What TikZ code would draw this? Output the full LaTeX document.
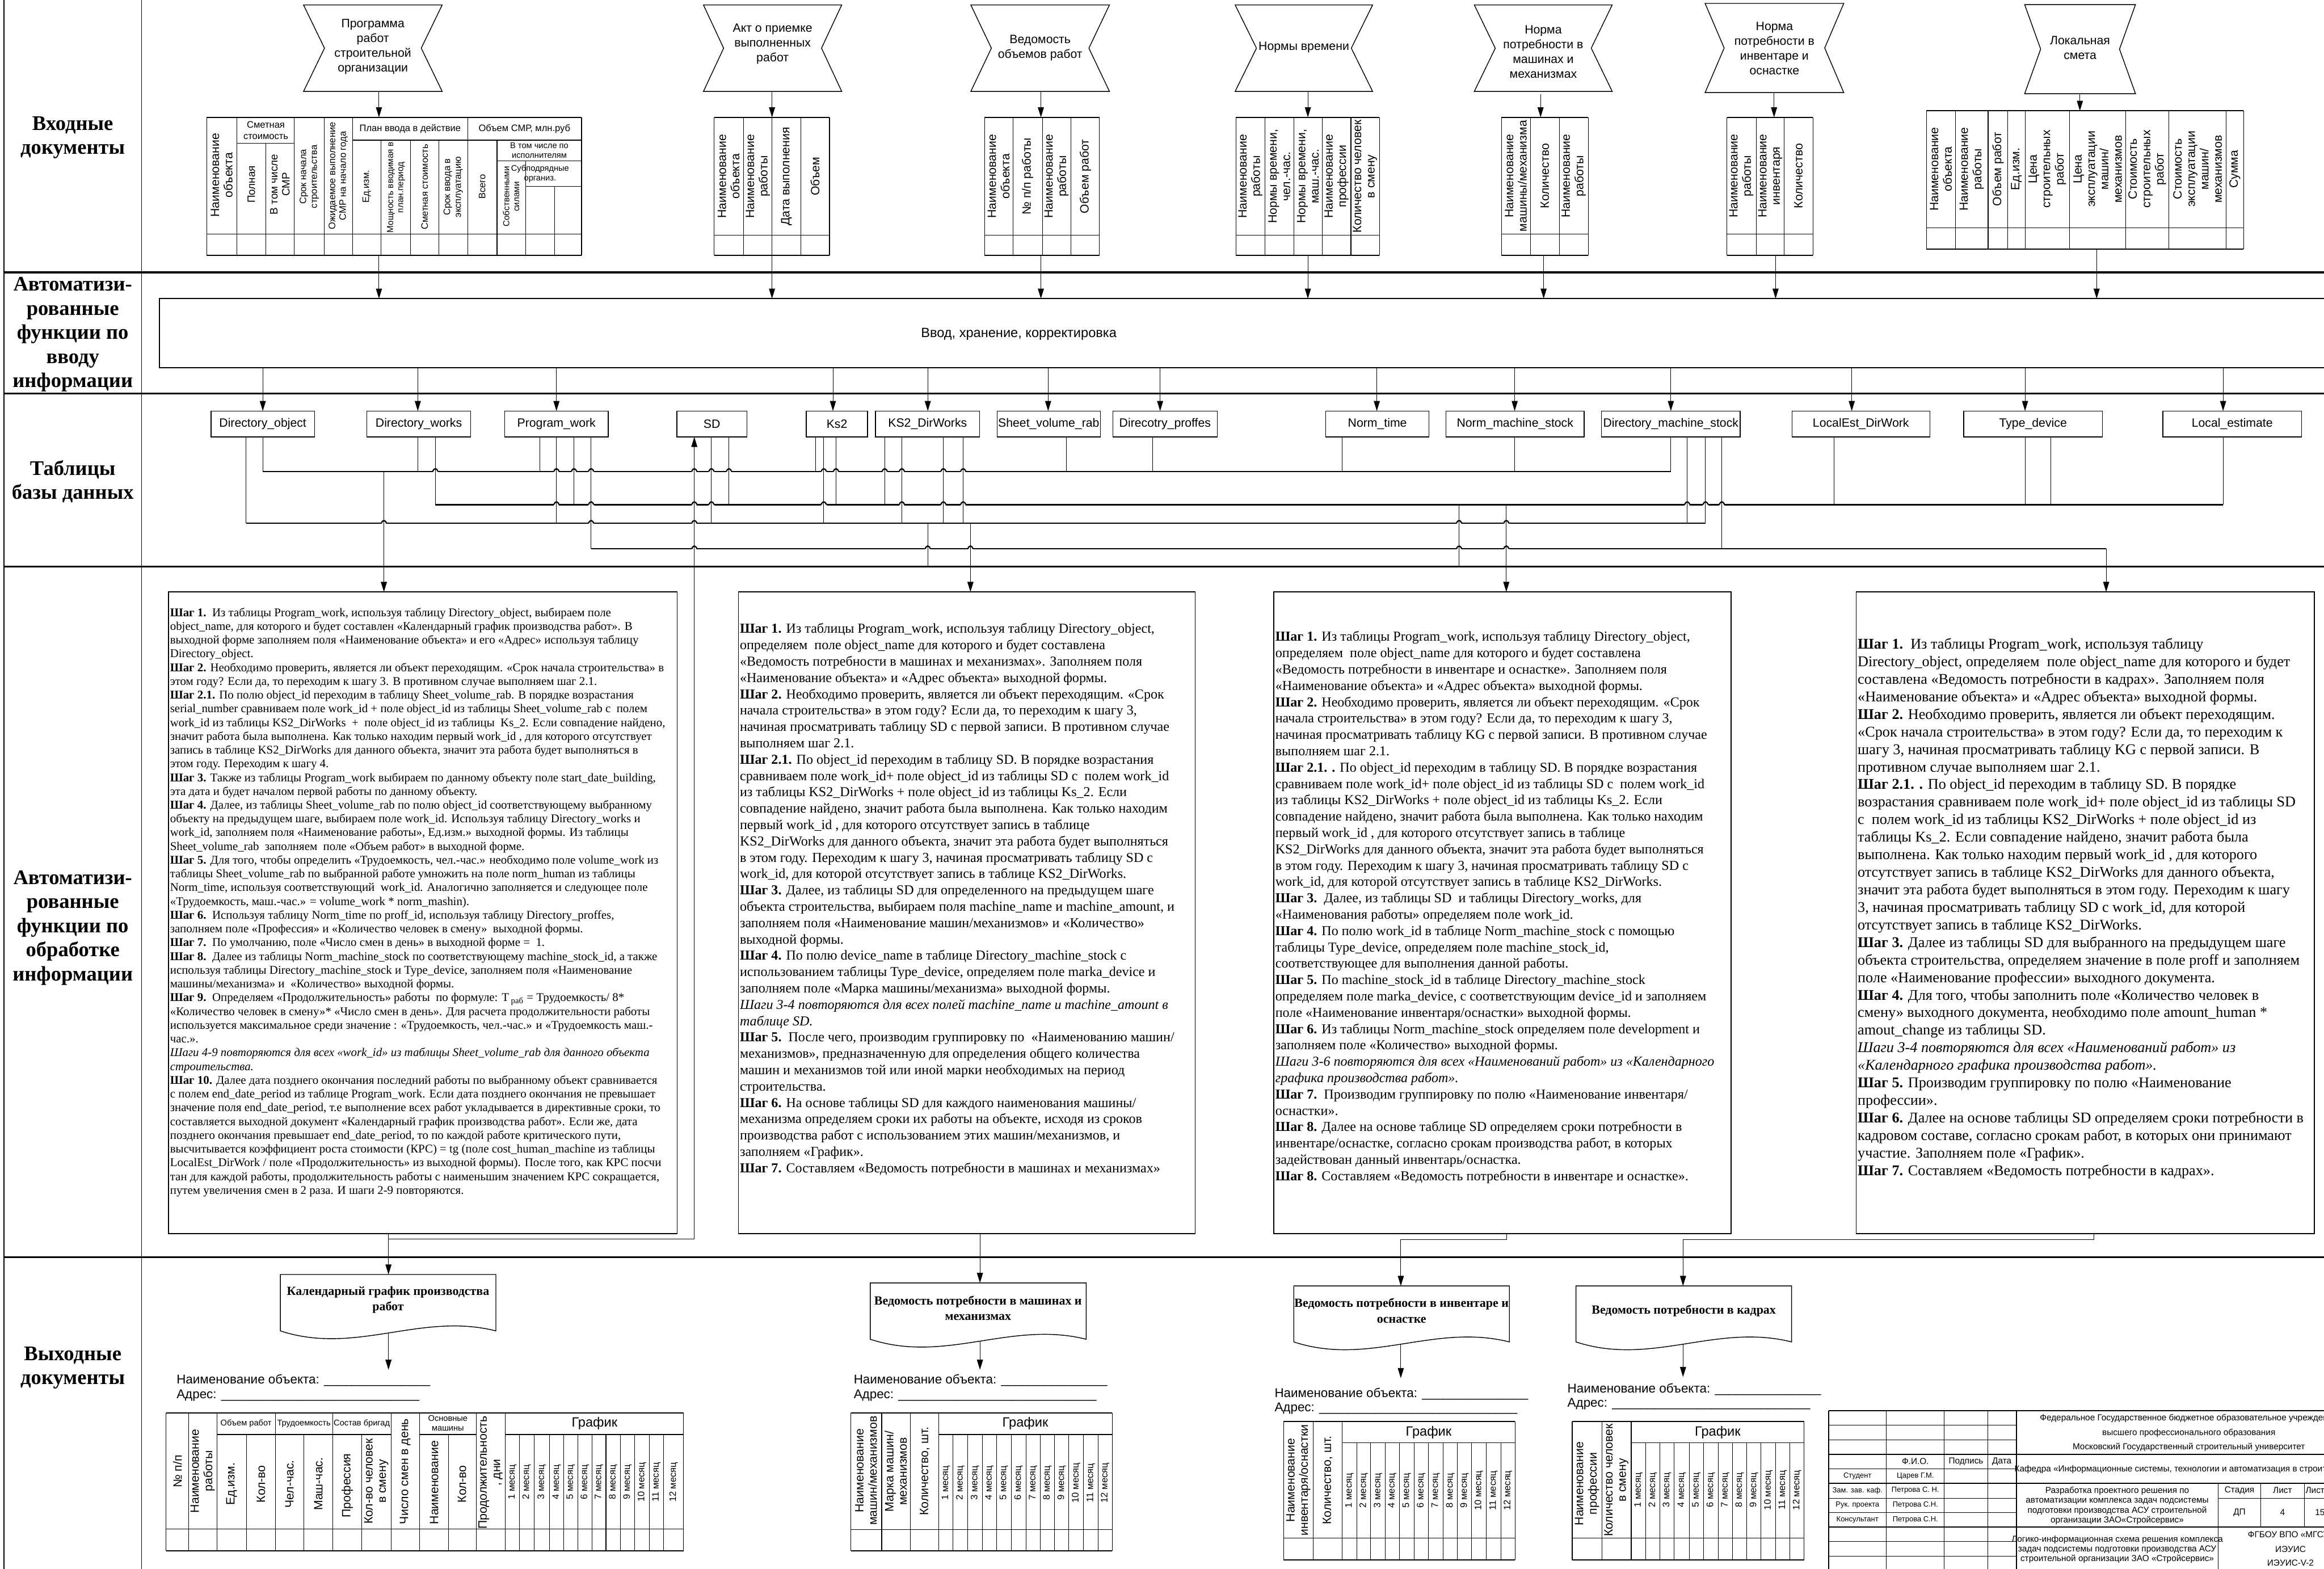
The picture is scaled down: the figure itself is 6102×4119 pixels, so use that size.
\documentclass[tikz,border=0pt]{standalone}
\usepackage{fontspec}
\setmainfont{Liberation Serif}
\setsansfont{Liberation Sans}
\usetikzlibrary{arrows.meta}
\newcommand\fsz[2]{\fontsize{#1}{#2}\selectfont}
\newcommand\bushop[2]{%
  \fill[white] ({#1-7},{#2-3}) rectangle ({#1+7},{#2+3});
  \draw[bus] ({#1-7},#2) .. controls ({#1-3},{#2-10}) and ({#1+3},{#2-10}) .. ({#1+7},#2);}
% name x1 x2 top bot indent texty text
\newcommand\hglass[8]{%
  \draw[ln] (#2,#4) -- (#3,#4) -- ({#3-#6},{(#4+#5)/2}) -- (#3,#5) -- (#2,#5) -- ({#2+#6},{(#4+#5)/2}) -- cycle;
  \node[doctxt] (#1) at ({(#2+#3)/2},#7) {#8};}
% name x1 x2 top ybottom
\newcommand\outdoc[5]{%
  \draw[ln] (#2,#5) -- (#2,#4) -- (#3,#4) -- (#3,#5) .. controls ({#3-0.35*(#3-#2)},{#5-50}) and ({#2+0.35*(#3-#2)},{#5+65}) .. (#2,#5) -- cycle;
  \coordinate (#1) at ({(#2+#3)/2},#4);}
% xlist top headerbottom bottom left right
\newcommand\gridtab[6]{%
  \foreach \xx in {#1} {\draw[thn] (\xx,#2) -- (\xx,#4);}
  \draw[thk] (#5,#2) -- (#6,#2); \draw[thk] (#5,#4) -- (#6,#4);
  \draw[thn] (#5,#3) -- (#6,#3);}
\newcommand\usc{\_\_\_\_\_}
\begin{document}
\begin{tikzpicture}[x=0.01cm,y=-0.01cm,
  ln/.style={line width=0.6pt},
  thn/.style={line width=0.45pt},
  thk/.style={line width=0.9pt},
  rowsep/.style={line width=1.4pt},
  bus/.style={line width=0.95pt},
  arr/.style={line width=0.45pt,-{Triangle[length=7.5pt,width=4.5pt]}},
  rowlbl/.style={align=center,inner sep=0pt,font=\bfseries\fsz{15.5}{18}},
  doctxt/.style={align=center,inner sep=0pt,font=\sffamily\fsz{9}{11}},
  vt/.style={rotate=90,align=center,inner sep=0pt,font=\sffamily\fsz{9}{10}},
  vt8/.style={vt,font=\sffamily\fsz{8}{9}},
  vt7/.style={vt,font=\sffamily\fsz{7}{8}},
  vt65/.style={vt,font=\sffamily\fsz{6.5}{7.5}},
  mon/.style={vt,font=\sffamily\fsz{7}{8}},
  ht/.style={align=center,inner sep=0pt,font=\sffamily\fsz{7}{8.5}},
  ht6/.style={align=center,inner sep=0pt,font=\sffamily\fsz{6.2}{7.5}},
  dbt/.style={draw,line width=0.6pt,inner sep=0pt,minimum height=0.68cm,font=\sffamily\fsz{9}{10}},
  pbox/.style={draw,line width=0.6pt,inner sep=0pt,minimum height=16.84cm},
  outtxt/.style={align=center,inner sep=0pt,font=\bfseries\fsz{9.3}{11.5}},
  frm/.style={anchor=west,inner sep=0pt,font=\sffamily\fsz{9.5}{11}},
  stp/.style={inner sep=0pt,font=\sffamily\fsz{6.5}{7.5}},
  stps/.style={inner sep=0pt,font=\sffamily\fsz{5.5}{6.5}},
  stepsA/.style={anchor=north west,align=left,inner sep=0pt,font=\fsz{8.85}{10.27}},
  stepsB/.style={anchor=north west,align=left,inner sep=0pt,font=\fsz{10.2}{12.2}},
  stepsC/.style={anchor=north west,align=left,inner sep=0pt,font=\fsz{11.1}{13.1}},
]
\useasboundingbox (0,0) rectangle (6102,4119);
% ---------------- frame ----------------
\draw[line width=0.8pt] (10,0) -- (10,4119);
\draw[ln] (372,0) -- (372,4119);
\foreach \yy in {715,1033,1487,3301} {\draw[rowsep] (10,\yy) -- (6110,\yy);}
\node[rowlbl] (L1) at (191,361) {Входные\\документы};
\node[rowlbl] (L2) at (191,878) {Автоматизи-\\рованные\\функции по\\вводу\\информации};
\node[rowlbl] (L3) at (191,1264) {Таблицы\\базы данных};
\node[rowlbl] (L4) at (191,2436) {Автоматизи-\\рованные\\функции по\\обработке\\информации};
\node[rowlbl] (L5) at (191,3591) {Выходные\\документы};
% ---------------- input documents ----------------
\hglass{in1}{797}{1161}{13}{240}{55}{123}{Программа\\работ\\строительной\\организации}
\hglass{in2}{1847}{2210}{13}{240}{53}{116}{Акт о приемке\\выполненных\\работ}
\hglass{in3}{2549}{2913}{13}{240}{54}{126}{Ведомость\\объемов работ}
\hglass{in4}{3243}{3604}{13}{240}{56}{124}{Нормы времени}
\hglass{in5}{3871}{4233}{13}{240}{55}{136}{Норма\\потребности в\\машинах и\\механизмах}
\hglass{in6}{4477}{4841}{9}{243}{50}{127}{Норма\\потребности в\\инвентаре и\\оснастке}
\hglass{in7}{5316}{5607}{12}{246}{42}{126}{Локальная\\смета}
\foreach \xx/\aa/\bb in {995/240/308,2027/240/308,2733/240/308,3434/240/308,4045/247/308,4658/243/308,5461/246/291}
  {\draw[arr] (\xx,\aa) -- (\xx,\bb);}
% table 1
\draw[thk] (543,308) -- (1527,308); \draw[thk] (543,671) -- (1527,671);
\draw[thn] (543,615) -- (1527,615);
\foreach \xx in {543,622,773,851,926,1228,1527} {\draw[thn] (\xx,308) -- (\xx,671);}
\draw[thn] (622,376) -- (773,376); \draw[thn] (698,376) -- (698,671);
\draw[thn] (926,368) -- (1527,368);
\foreach \xx in {1001,1078,1153,1305} {\draw[thn] (\xx,368) -- (\xx,671);}
\draw[thn] (1305,422) -- (1527,422); \draw[thn] (1380,422) -- (1380,671);
\draw[thn] (1380,490) -- (1527,490); \draw[thn] (1456,490) -- (1456,671);
\node[vt] (t1a) at (582,460) {Наименование\\объекта};
\node[ht] (t1b) at (698,342) {Сметная\\стоимость};
\node[vt8] (t1c) at (660,484) {Полная};
\node[vt8] (t1d) at (735,484) {В том числе\\СМР};
\node[vt7] (t1e) at (812,464) {Срок начала\\строительства};
\node[vt7] (t1f) at (888,462) {Ожидаемое выполнение\\СМР на начало года};
\node[ht] (t1g) at (1077,338) {План ввода в действие};
\node[vt7] (t1h) at (963,490) {Ед.изм.};
\node[vt65] (t1i) at (1040,492) {Мощность вводимая в\\план.период};
\node[vt7] (t1j) at (1115,491) {Сметная стоимость};
\node[vt7] (t1k) at (1190,491) {Срок ввода в\\эксплуатацию};
\node[ht] (t1l) at (1377,338) {Объем СМР, млн.руб};
\node[vt7] (t1m) at (1266,490) {Всего};
\node[ht6] (t1n) at (1416,395) {В том числе по\\исполнителям};
\node[vt65] (t1o) at (1342,516) {Собственными\\силами};
\node[ht6] (t1p) at (1418,456) {Субподрядные\\организ.};
% table 2
\gridtab{1875,1952,2027,2103,2178}{308}{618}{671}{1875}{2178}
\node[vt] (t2a) at (1913,463) {Наименование\\объекта};
\node[vt] (t2b) at (1990,463) {Наименование\\работы};
\node[vt] (t2c) at (2065,463) {Дата выполнения};
\node[vt] (t2d) at (2140,463) {Объем};
% table 3
\gridtab{2585,2660,2737,2812,2887}{308}{618}{671}{2585}{2887}
\node[vt] (t3a) at (2622,463) {Наименование\\объекта};
\node[vt] (t3b) at (2698,463) {№ п/п работы};
\node[vt] (t3c) at (2774,463) {Наименование\\работы};
\node[vt] (t3d) at (2850,463) {Объем работ};
% table 4
\gridtab{3245,3322,3397,3472,3547,3622}{308}{618}{671}{3245}{3622}
\node[vt] (t4a) at (3283,463) {Наименование\\работы};
\node[vt] (t4b) at (3359,463) {Нормы времени,\\чел.-час.};
\node[vt] (t4c) at (3434,463) {Нормы времени,\\маш.-час.};
\node[vt] (t4d) at (3509,463) {Наименование\\профессии};
\node[vt] (t4e) at (3584,463) {Количество человек\\в смену};
% table 5
\gridtab{3942,4018,4094,4170}{308}{615}{671}{3942}{4170}
\node[vt] (t5a) at (3980,462) {Наименование\\машины/механизма};
\node[vt] (t5b) at (4056,462) {Количество};
\node[vt] (t5c) at (4132,462) {Наименование\\работы};
% table 6
\gridtab{4534,4611,4685,4760}{308}{615}{671}{4534}{4760}
\node[vt] (t6a) at (4572,462) {Наименование\\работы};
\node[vt] (t6b) at (4648,462) {Наименование\\инвентаря};
\node[vt] (t6c) at (4722,462) {Количество};
% table 7
\gridtab{5058,5134,5220,5272,5317,5434,5581,5695,5845,5891}{291}{598}{654}{5058}{5891}
\begin{scope}[every node/.style={vt,font=\sffamily\fsz{9}{10}}]
\node (t7a) at (5096,444) {Наименование\\объекта};
\node (t7b) at (5177,444) {Наименование\\работы};
\node (t7c) at (5246,444) {Объем работ};
\node (t7d) at (5294.5,444) {Ед.изм.};
\node (t7e) at (5375.5,444) {Цена\\строительных\\работ};
\node (t7f) at (5507.5,444) {Цена\\эксплуатации\\машин/\\механизмов};
\node (t7g) at (5638,444) {Стоимость\\строительных\\работ};
\node (t7h) at (5770,444) {Стоимость\\эксплуатации\\машин/\\механизмов};
\node (t7i) at (5868,444) {Сумма};
\end{scope}
% ---------------- input function box ----------------
\draw[thk] (6110,784) -- (419,784) -- (419,965) -- (6110,965);
\node[doctxt,font=\sffamily\fsz{10}{12}] (fbox) at (2675,877) {Ввод, хранение, корректировка};
\foreach \xx/\yy in {995/671,2027/671,2733/671,3434/671,4053/671,4662/671,5505/654}
  {\draw[arr] (\xx,\yy) -- (\xx,784);}
\foreach \xx in {690,1097,1461,2187,2436,2752,3046,3615,3977,4387,4862,5317,5837}
  {\draw[arr] (\xx,965) -- (\xx,1079);}
% ---------------- database tables ----------------
\node[dbt,minimum width=2.72cm] (dO) at (690,1113) {Directory\_object};
\node[dbt,minimum width=2.73cm] (dW) at (1099.5,1113) {Directory\_works};
\node[dbt,minimum width=2.72cm] (pW) at (1461,1113) {Program\_work};
\node[dbt,minimum width=1.84cm] (sD) at (1869,1113) {SD};
\node[dbt,minimum width=1.61cm] (kS) at (2197.5,1113) {Ks2};
\node[dbt,minimum width=2.73cm] (kD) at (2435.5,1113) {KS2\_DirWorks};
\node[dbt,minimum width=2.71cm] (sV) at (2753.5,1113) {Sheet\_volume\_rab};
\node[dbt,minimum width=2.74cm] (dP) at (3059,1113) {Direcotry\_proffes};
\node[dbt,minimum width=2.71cm] (nT) at (3616.5,1113) {Norm\_time};
\node[dbt,minimum width=3.62cm] (nM) at (3978,1113) {Norm\_machine\_stock};
\node[dbt,minimum width=3.64cm] (dM) at (4387,1113) {Directory\_machine\_stock};
\node[dbt,minimum width=3.62cm] (lD) at (4886,1113) {LocalEst\_DirWork};
\node[dbt,minimum width=3.64cm] (tD) at (5338,1113) {Type\_device};
\node[dbt,minimum width=3.64cm] (lE) at (5861,1113) {Local\_estimate};
% buses
\draw[bus] (690,1238) -- (4387,1238);
\draw[bus] (1143,1325) -- (5837,1325);
\draw[bus] (646,1374) -- (4478,1374);
\draw[bus] (1552,1441) -- (5530,1441);
\foreach \xx in {1143,1461,1507,1552,1823,1868,1914,2163,2195,2323,2368,2477,2529} {\bushop{\xx}{1238}}
\foreach \xx in {1461,1552,1823,1868,2163,2368,2477,2529,4430,4478,4521} {\bushop{\xx}{1325}}
\foreach \xx in {1008,1552,1823,3831,3955} {\bushop{\xx}{1374}}
\foreach \xx in {1823,2436,2548,3831,3955} {\bushop{\xx}{1441}}
\foreach \xx/\yy in {646/1374,690/1238,1097/1238,1143/1325,1418/1238,1461/1374,1507/1325,1552/1441,1868/1374,1914/1325,2141/1238,2163/1374,2195/1325,2323/1325,2368/1374,2477/1374,2529/1374,2800/1238,3026/1238,3524/1238,3977/1238,4387/1238,4430/1374,4478/1374,4521/1441,4816/1325,5317/1325,5384/1325,5837/1325}
  {\draw[thn] (\xx,1147) -- (\xx,\yy);}
\draw[thn] (2436,1374) -- (2436,1487);
\draw[thn] (3831,1325) -- (3831,1487);
% ---------------- processing boxes ----------------
\node[pbox,minimum width=13.35cm] (p1) at (1110.5,2396) {};
\node[pbox,minimum width=11.99cm] (p2) at (2538.5,2396) {};
\node[pbox,minimum width=12.00cm] (p3) at (3945,2396) {};
\node[pbox,minimum width=12.02cm] (p4) at (5475,2396) {};
\draw[arr] (1008,1238) -- (1008,1554);
\draw[arr] (2548,1374) -- (2548,1554);
\draw[arr] (3955,1325) -- (3955,1554);
\draw[arr] (5530,1441) -- (5530,1554);
\node[stepsA] (s1) at (446,1595) {%
\textbf{Шаг 1.}\ \ Из таблицы Program\_work, используя таблицу Directory\_object, выбираем поле\\
object\_name, для которого и будет составлен «Календарный график производства работ». В\\
выходной форме заполняем поля «Наименование объекта» и его «Адрес» используя таблицу\\
Directory\_object.\\
\textbf{Шаг 2.} Необходимо проверить, является ли объект переходящим. «Срок начала строительства» в\\
этом году? Если да, то переходим к шагу 3. В противном случае выполняем шаг 2.1.\\
\textbf{Шаг 2.1.} По полю object\_id переходим в таблицу Sheet\_volume\_rab. В порядке возрастания\\
serial\_number сравниваем поле work\_id + поле object\_id из таблицы Sheet\_volume\_rab с\ \ полем\\
work\_id из таблицы KS2\_DirWorks\ \ +\ \ поле object\_id из таблицы\ \ Ks\_2. Если совпадение найдено,\\
значит работа была выполнена. Как только находим первый work\_id , для которого отсутствует\\
запись в таблице KS2\_DirWorks для данного объекта, значит эта работа будет выполняться в\\
этом году. Переходим к шагу 4.\\
\textbf{Шаг 3.} Также из таблицы Program\_work выбираем по данному объекту поле start\_date\_building,\\
эта дата и будет началом первой работы по данному объекту.\\
\textbf{Шаг 4.} Далее, из таблицы Sheet\_volume\_rab по полю object\_id соответствующему выбранному\\
объекту на предыдущем шаге, выбираем поле work\_id. Используя таблицу Directory\_works и\\
work\_id, заполняем поля «Наименование работы», Ед.изм.» выходной формы. Из таблицы\\
Sheet\_volume\_rab\ \ заполняем\ \ поле «Объем работ» в выходной форме.\\
\textbf{Шаг 5.} Для того, чтобы определить «Трудоемкость, чел.-час.» необходимо поле volume\_work из\\
таблицы Sheet\_volume\_rab по выбранной работе умножить на поле norm\_human из таблицы\\
Norm\_time, используя соответствующий\ \ work\_id. Аналогично заполняется и следующее поле\\
«Трудоемкость, маш.-час.» = volume\_work * norm\_mashin).\\
\textbf{Шаг 6.}\ \ Используя таблицу Norm\_time по proff\_id, используя таблицу Directory\_proffes,\\
заполняем поле «Профессия» и «Количество человек в смену»\ \ выходной формы.\\
\textbf{Шаг 7.}\ \ По умолчанию, поле «Число смен в день» в выходной форме =\ \ 1.\\
\textbf{Шаг 8.}\ \ Далее из таблицы Norm\_machine\_stock по соответствующему machine\_stock\_id, а также\\
используя таблицы Directory\_machine\_stock и Type\_device, заполняем поля «Наименование\\
машины/механизма» и\ \ «Количество» выходной формы.\\
\textbf{Шаг 9.}\ \ Определяем «Продолжительность» работы\ \ по формуле: Т\,\textsubscript{раб} = Трудоемкость/ 8*\\
«Количество человек в смену»* «Число смен в день». Для расчета продолжительности работы\\
используется максимальное среди значение : «Трудоемкость, чел.-час.» и «Трудоемкость маш.-\\
час.».\\
\textit{Шаги 4-9 повторяются для всех «work\_id» из таблицы Sheet\_volume\_rab для данного объекта}\\
\textit{строительства.}\\
\textbf{Шаг 10.} Далее дата позднего окончания последний работы по выбранному объект сравнивается\\
с полем end\_date\_period из таблице Program\_work. Если дата позднего окончания не превышает\\
значение поля end\_date\_period, т.е выполнение всех работ укладывается в директивные сроки, то\\
составляется выходной документ «Календарный график производства работ». Если же, дата\\
позднего окончания превышает end\_date\_period, то по каждой работе критического пути,\\
высчитывается коэффициент роста стоимости (КРС) = tg (поле cost\_human\_machine из таблицы\\
LocalEst\_DirWork / поле «Продолжительность» из выходной формы). После того, как КРС посчи\\
тан для каждой работы, продолжительность работы с наименьшим значением КРС сокращается,\\
путем увеличения смен в 2 раза. И шаги 2-9 повторяются.};
\node[stepsB] (s2) at (1942,1636) {%
\textbf{Шаг 1.} Из таблицы Program\_work, используя таблицу Directory\_object,\\
определяем\ \ поле object\_name для которого и будет составлена\\
«Ведомость потребности в машинах и механизмах». Заполняем поля\\
«Наименование объекта» и «Адрес объекта» выходной формы.\\
\textbf{Шаг 2.} Необходимо проверить, является ли объект переходящим. «Срок\\
начала строительства» в этом году? Если да, то переходим к шагу 3,\\
начиная просматривать таблицу SD с первой записи. В противном случае\\
выполняем шаг 2.1.\\
\textbf{Шаг 2.1.} По object\_id переходим в таблицу SD. В порядке возрастания\\
сравниваем поле work\_id+ поле object\_id из таблицы SD с\ \ полем work\_id\\
из таблицы KS2\_DirWorks + поле object\_id из таблицы Ks\_2. Если\\
совпадение найдено, значит работа была выполнена. Как только находим\\
первый work\_id , для которого отсутствует запись в таблице\\
KS2\_DirWorks для данного объекта, значит эта работа будет выполняться\\
в этом году. Переходим к шагу 3, начиная просматривать таблицу SD с\\
work\_id, для которой отсутствует запись в таблице KS2\_DirWorks.\\
\textbf{Шаг 3.} Далее, из таблицы SD для определенного на предыдущем шаге\\
объекта строительства, выбираем поля machine\_name и machine\_amount, и\\
заполняем поля «Наименование машин/механизмов» и «Количество»\\
выходной формы.\\
\textbf{Шаг 4.} По полю device\_name в таблице Directory\_machine\_stock с\\
использованием таблицы Type\_device, определяем поле marka\_device и\\
заполняем поле «Марка машины/механизма» выходной формы.\\
\textit{Шаги 3-4 повторяются для всех полей machine\_name и machine\_amount в}\\
\textit{таблице SD.}\\
\textbf{Шаг 5.}\ \ После чего, производим группировку по\ \ «Наименованию машин/\\
механизмов», предназначенную для определения общего количества\\
машин и механизмов той или иной марки необходимых на период\\
строительства.\\
\textbf{Шаг 6.} На основе таблицы SD для каждого наименования машины/\\
механизма определяем сроки их работы на объекте, исходя из сроков\\
производства работ с использованием этих машин/механизмов, и\\
заполняем «График».\\
\textbf{Шаг 7.} Составляем «Ведомость потребности в машинах и механизмах»};
\node[stepsB] (s3) at (3348,1657) {%
\textbf{Шаг 1.} Из таблицы Program\_work, используя таблицу Directory\_object,\\
определяем\ \ поле object\_name для которого и будет составлена\\
«Ведомость потребности в инвентаре и оснастке». Заполняем поля\\
«Наименование объекта» и «Адрес объекта» выходной формы.\\
\textbf{Шаг 2.} Необходимо проверить, является ли объект переходящим. «Срок\\
начала строительства» в этом году? Если да, то переходим к шагу 3,\\
начиная просматривать таблицу KG с первой записи. В противном случае\\
выполняем шаг 2.1.\\
\textbf{Шаг 2.1. .} По object\_id переходим в таблицу SD. В порядке возрастания\\
сравниваем поле work\_id+ поле object\_id из таблицы SD с\ \ полем work\_id\\
из таблицы KS2\_DirWorks + поле object\_id из таблицы Ks\_2. Если\\
совпадение найдено, значит работа была выполнена. Как только находим\\
первый work\_id , для которого отсутствует запись в таблице\\
KS2\_DirWorks для данного объекта, значит эта работа будет выполняться\\
в этом году. Переходим к шагу 3, начиная просматривать таблицу SD с\\
work\_id, для которой отсутствует запись в таблице KS2\_DirWorks.\\
\textbf{Шаг 3.}\ \ Далее, из таблицы SD\ \ и таблицы Directory\_works, для\\
«Наименования работы» определяем поле work\_id.\\
\textbf{Шаг 4.} По полю work\_id в таблице Norm\_machine\_stock с помощью\\
таблицы Type\_device, определяем поле machine\_stock\_id,\\
соответствующее для выполнения данной работы.\\
\textbf{Шаг 5.} По machine\_stock\_id в таблице Directory\_machine\_stock\\
определяем поле marka\_device, с соответствующим device\_id и заполняем\\
поле «Наименование инвентаря/оснастки» выходной формы.\\
\textbf{Шаг 6.} Из таблицы Norm\_machine\_stock определяем поле development и\\
заполняем поле «Количество» выходной формы.\\
\textit{Шаги 3-6 повторяются для всех «Наименований работ» из «Календарного}\\
\textit{графика производства работ».}\\
\textbf{Шаг 7.}\ \ Производим группировку по полю «Наименование инвентаря/\\
оснастки».\\
\textbf{Шаг 8.} Далее на основе таблице SD определяем сроки потребности в\\
инвентаре/оснастке, согласно срокам производства работ, в которых\\
задействован данный инвентарь/оснастка.\\
\textbf{Шаг 8.} Составляем «Ведомость потребности в инвентаре и оснастке».};
\node[stepsC] (s4) at (4877,1675) {%
\textbf{Шаг 1.}\ \ Из таблицы Program\_work, используя таблицу\\
Directory\_object, определяем\ \ поле object\_name для которого и будет\\
составлена «Ведомость потребности в кадрах». Заполняем поля\\
«Наименование объекта» и «Адрес объекта» выходной формы.\\
\textbf{Шаг 2.} Необходимо проверить, является ли объект переходящим.\\
«Срок начала строительства» в этом году? Если да, то переходим к\\
шагу 3, начиная просматривать таблицу KG с первой записи. В\\
противном случае выполняем шаг 2.1.\\
\textbf{Шаг 2.1. .} По object\_id переходим в таблицу SD. В порядке\\
возрастания сравниваем поле work\_id+ поле object\_id из таблицы SD\\
с\ \ полем work\_id из таблицы KS2\_DirWorks + поле object\_id из\\
таблицы Ks\_2. Если совпадение найдено, значит работа была\\
выполнена. Как только находим первый work\_id , для которого\\
отсутствует запись в таблице KS2\_DirWorks для данного объекта,\\
значит эта работа будет выполняться в этом году. Переходим к шагу\\
3, начиная просматривать таблицу SD с work\_id, для которой\\
отсутствует запись в таблице KS2\_DirWorks.\\
\textbf{Шаг 3.} Далее из таблицы SD для выбранного на предыдущем шаге\\
объекта строительства, определяем значение в поле proff и заполняем\\
поле «Наименование профессии» выходного документа.\\
\textbf{Шаг 4.} Для того, чтобы заполнить поле «Количество человек в\\
смену» выходного документа, необходимо поле amount\_human *\\
amout\_change из таблицы SD.\\
\textit{Шаги 3-4 повторяются для всех «Наименований работ» из}\\
\textit{«Календарного графика производства работ».}\\
\textbf{Шаг 5.} Производим группировку по полю «Наименование\\
профессии».\\
\textbf{Шаг 6.} Далее на основе таблицы SD определяем сроки потребности в\\
кадровом составе, согласно срокам работ, в которых они принимают\\
участие. Заполняем поле «График».\\
\textbf{Шаг 7.} Составляем «Ведомость потребности в кадрах».};
% ---------------- output documents ----------------
\outdoc{o1}{736}{1302}{3346}{3494}
\outdoc{o2}{2285}{2852}{3368}{3516}
\outdoc{o3}{3397}{3963}{3376}{3523}
\outdoc{o4}{4138}{4704}{3376}{3523}
\node[outtxt] (o1t) at (1019,3412) {Календарный график производства\\работ};
\node[outtxt] (o2t) at (2568,3434) {Ведомость потребности в машинах и\\механизмах};
\node[outtxt] (o3t) at (3680,3441) {Ведомость потребности в инвентаре и\\оснастке};
\node[outtxt] (o4t) at (4421,3441) {Ведомость потребности в кадрах};
\draw[thn] (1020,3238) -- (1020,3253);
\draw[arr] (1020,3253) -- (1020,3346);
\draw[arr] (1020,3253) -- (1823,3253) -- (1823,1147);
\draw[arr] (2573,3238) -- (2573,3368);
\draw[arr] (3956,3238) -- (3956,3255) -- (3678,3255) -- (3678,3376);
\draw[arr] (5498,3238) -- (5498,3255) -- (4419,3255) -- (4419,3376);
\draw[arr] (1020,3500) -- (1020,3596);
\draw[arr] (2573,3522) -- (2573,3596);
\draw[arr] (3678,3529) -- (3678,3618);
\draw[arr] (4419,3529) -- (4419,3615);
\node[frm] (f1a) at (463,3624) {Наименование объекта: \usc\usc\usc};
\node[frm] (f1b) at (463,3664) {Адрес: \usc\usc\usc\usc\usc\_\_\_};
\node[frm] (f2a) at (2241,3624) {Наименование объекта: \usc\usc\usc};
\node[frm] (f2b) at (2241,3664) {Адрес: \usc\usc\usc\usc\usc\_\_\_};
\node[frm] (f3a) at (3346,3659) {Наименование объекта: \usc\usc\usc};
\node[frm] (f3b) at (3346,3698) {Адрес: \usc\usc\usc\usc\usc\_\_\_};
\node[frm] (f4a) at (4115,3647) {Наименование объекта: \usc\usc\usc};
\node[frm] (f4b) at (4115,3686) {Адрес: \usc\usc\usc\usc\usc\_\_\_};
% output table 1
\draw[thk] (436,3709) -- (1795,3709); \draw[thk] (436,4072) -- (1795,4072);
\draw[thn] (436,4014) -- (1795,4014);
\foreach \xx in {436,495,570,723,874,1027,1102,1250,1327,1795} {\draw[thn] (\xx,3709) -- (\xx,4072);}
\foreach \xx in {647,798,950,1177} {\draw[thn] (\xx,3766) -- (\xx,4072);}
\draw[thn] (570,3766) -- (1027,3766); \draw[thn] (1102,3766) -- (1250,3766); \draw[thn] (1327,3766) -- (1795,3766);
\node[vt] (c1) at (466,3863) {№ п/п};
\node[vt] (c2) at (532,3862) {Наименование\\работы};
\node[ht6] (c3) at (646,3737) {Объем работ};
\node[vt] (c4) at (608,3896) {Ед.изм.};
\node[vt] (c5) at (685,3896) {Кол-во};
\node[ht6] (c6) at (798,3737) {Трудоемкость};
\node[vt] (c7) at (760,3896) {Чел-час.};
\node[vt] (c8) at (836,3896) {Маш-час.};
\node[ht6] (c9) at (950,3737) {Состав бригад};
\node[vt] (c10) at (912,3900) {Профессия};
\node[vt] (c11) at (988,3889) {Кол-во человек\\в смену};
\node[vt] (c12) at (1064,3863) {Число смен в день};
\node[ht6] (c13) at (1176,3736) {Основные\\машины};
\node[vt] (c14) at (1140,3892) {Наименование};
\node[vt] (c15) at (1213,3896) {Кол-во};
\node[vt] (c16) at (1288,3866) {Продолжительность\\, дни};
\node[doctxt,font=\sffamily\fsz{10}{12}] (c17) at (1561,3737) {График};
\foreach \xx [remember=\xx as \lx (initially 1327), count=\n] in {1364,1402,1443,1480,1517,1554,1591,1629,1666,1705,1742,1795} {
  \draw[thn] (\xx,3766) -- (\xx,4072);
  \node[mon] (m1-\n) at ({(\xx+\lx)/2},3891) {\n\ месяц};}
% output table 2
\draw[thk] (2234,3709) -- (2920,3709); \draw[thk] (2234,4072) -- (2920,4072);
\draw[thn] (2234,4015) -- (2920,4015);
\foreach \xx in {2234,2315,2390,2465,2920} {\draw[thn] (\xx,3709) -- (\xx,4072);}
\draw[thn] (2465,3766) -- (2920,3766);
\node[vt] (d1) at (2274,3861) {Наименование\\машин/механизмов};
\node[vt] (d2) at (2352,3863) {Марка машин/\\механизмов};
\node[vt] (d3) at (2428,3862) {Количество, шт.};
\node[doctxt,font=\sffamily\fsz{10}{12}] (d4) at (2692,3737) {График};
\foreach \xx [remember=\xx as \lx (initially 2465), count=\n] in {2502,2541,2579,2617,2655,2694,2731,2769,2806,2845,2883,2920} {
  \draw[thn] (\xx,3766) -- (\xx,4072);
  \node[mon] (m2-\n) at ({(\xx+\lx)/2},3893) {\n\ месяц};}
% output table 3
\draw[thk] (3370,3732) -- (3978,3732); \draw[thk] (3370,4095) -- (3978,4095);
\draw[thn] (3370,4038) -- (3978,4038);
\foreach \xx in {3370,3448,3524,3978} {\draw[thn] (\xx,3732) -- (\xx,4095);}
\draw[thn] (3524,3788) -- (3978,3788);
\node[vt] (e1) at (3409,3886) {Наименование\\инвентаря/оснастки};
\node[vt] (e2) at (3486,3886) {Количество, шт.};
\node[doctxt,font=\sffamily\fsz{10}{12}] (e3) at (3751,3760) {График};
\foreach \xx [remember=\xx as \lx (initially 3524), count=\n] in {3562,3599,3637,3674,3713,3750,3789,3827,3864,3902,3941,3978} {
  \draw[thn] (\xx,3788) -- (\xx,4095);
  \node[mon] (m3-\n) at ({(\xx+\lx)/2},3913) {\n\ месяц};}
% output table 4
\draw[thk] (4128,3732) -- (4737,3732); \draw[thk] (4128,4095) -- (4737,4095);
\draw[thn] (4128,4038) -- (4737,4038);
\foreach \xx in {4128,4206,4283,4737} {\draw[thn] (\xx,3732) -- (\xx,4095);}
\draw[thn] (4283,3788) -- (4737,3788);
\node[vt] (g1) at (4167,3895) {Наименование\\профессии};
\node[vt] (g2) at (4244,3886) {Количество человек\\в смену};
\node[doctxt,font=\sffamily\fsz{10}{12}] (g3) at (4510,3760) {График};
\foreach \xx [remember=\xx as \lx (initially 4283), count=\n] in {4321,4358,4396,4435,4473,4511,4549,4586,4624,4662,4700,4737} {
  \draw[thn] (\xx,3788) -- (\xx,4095);
  \node[mon] (m4-\n) at ({(\xx+\lx)/2},3912) {\n\ месяц};}
% ---------------- title block ----------------
\foreach \yy in {3742,3780,3856,3933,3971,4047,4085} {\draw[thn] (4802,\yy) -- (5294,\yy);}
\foreach \yy in {3703,3818,3894,4009} {\draw[thk] (4802,\yy) -- (6110,\yy);}
\foreach \xx in {4953,5105,5219} {\draw[thn] (\xx,3703) -- (\xx,4119);}
\draw[thk] (4802,3703) -- (4802,4119);
\draw[thk] (5294,3703) -- (5294,4119);
\draw[thn] (5824,3894) -- (5824,4119);
\draw[thn] (5936,3894) -- (5936,4009);
\draw[thn] (6050,3894) -- (6050,4009);
\draw[thn] (5824,3933) -- (6110,3933);
\node[stp] (sb1) at (5747,3723) {Федеральное Государственное бюджетное образовательное учреждение};
\node[stp] (sb2) at (5747,3762) {высшего профессионального образования};
\node[stp] (sb3) at (5747,3800) {Московский Государственный строительный университет};
\node[stp] (sb4) at (5747,3858) {Кафедра «Информационные системы, технологии и автоматизация в строительстве»};
\node[stp,align=center,font=\sffamily\fsz{6.5}{7.3}] (sb5) at (5559,3953) {Разработка проектного решения по\\автоматизации комплекса задач подсистемы\\подготовки производства АСУ строительной\\организации ЗАО«Стройсервис»};
\node[stp] (sb6) at (5880,3913) {Стадия};
\node[stp] (sb7) at (5993,3913) {Лист};
\node[stp,anchor=west] (sb8) at (6053,3913) {Листов};
\node[stp] (sb9) at (5880,3971) {ДП};
\node[stp] (sb10) at (5993,3971) {4};
\node[stp,anchor=west] (sb11) at (6078,3971) {15};
\node[stp,align=center,font=\sffamily\fsz{6.5}{7.3}] (sb12) at (5559,4068) {Логико-информационная схема решения комплекса\\задач подсистемы подготовки производства АСУ\\строительной организации ЗАО «Стройсервис»};
\node[stp] (sb13) at (6014,4029) {ФГБОУ ВПО «МГСУ»};
\node[stp] (sb14) at (6014,4068) {ИЭУИС};
\node[stp] (sb15) at (6014,4103) {ИЭУИС-V-2};
\node[stp] (sb16) at (5029,3837) {Ф.И.О.};
\node[stp] (sb17) at (5162,3837) {Подпись};
\node[stp] (sb18) at (5256,3837) {Дата};
\node[stps] (sb19) at (4877,3875) {Студент};
\node[stps] (sb20) at (5029,3875) {Царев Г.М.};
\node[stps] (sb21) at (4877,3913) {Зам. зав. каф.};
\node[stps] (sb22) at (5029,3913) {Петрова С. Н.};
\node[stps] (sb23) at (4877,3951) {Рук. проекта};
\node[stps] (sb24) at (5029,3951) {Петрова С.Н.};
\node[stps] (sb25) at (4877,3990) {Консультант};
\node[stps] (sb26) at (5029,3990) {Петрова С.Н.};
\end{tikzpicture}
\end{document}
